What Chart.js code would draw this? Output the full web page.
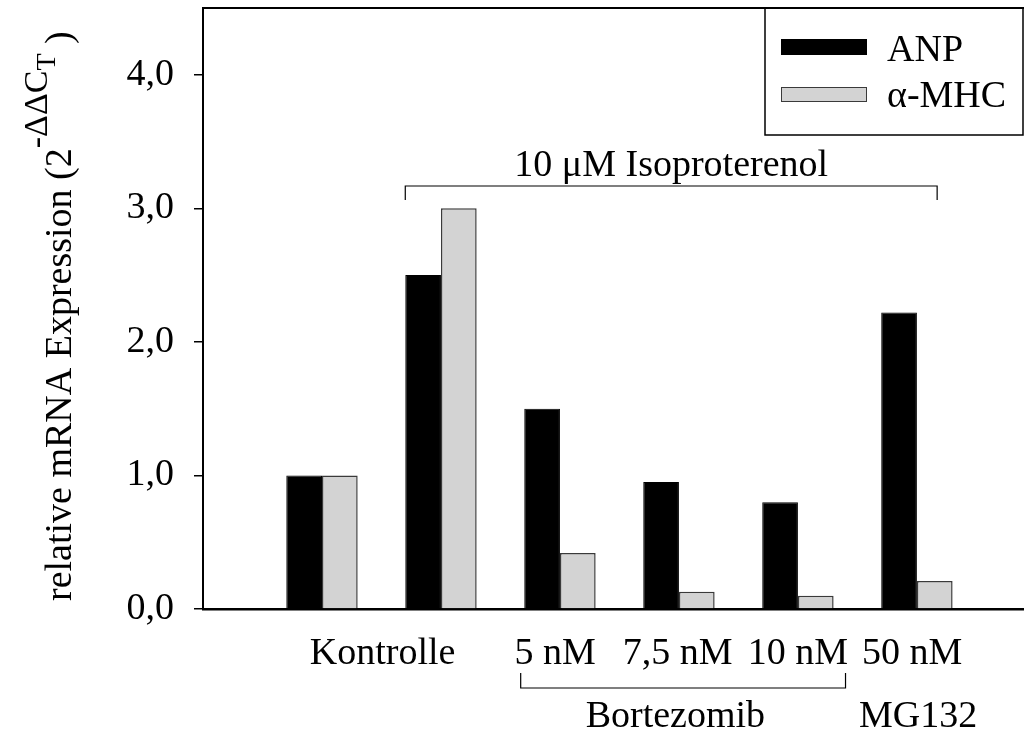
<!DOCTYPE html>
<html>
<head>
<meta charset="utf-8">
<script src="https://cdn.jsdelivr.net/npm/chart.js@4.4.1/dist/chart.umd.min.js"></script>
<style>
  html, body { margin: 0; padding: 0; background: #fff; }
</style>
</head>
<body>
<canvas id="mrnaChart" width="1024" height="731"></canvas>
<script>
// x position of each treatment group (1 = Kontrolle ... 6 = MG132)
const groups = [1, 2, 3, 4, 5, 6];
const anpValues = [1.0, 2.5, 1.5, 0.95, 0.8, 2.22];
const mhcValues = [1.0, 3.0, 0.42, 0.13, 0.10, 0.21];
const seriesNames = ["ANP", "α-MHC"];
const yTicks = [0, 1, 2, 3, 4];
const doseLabels = ["Kontrolle", "5 nM", "7,5 nM", "10 nM", "50 nM"];
const treatmentLabel = "10 μM Isoproterenol";
const inhibitorLabels = ["Bortezomib", "MG132"];

const SERIF = '"Liberation Serif", "Times New Roman", serif';
const font = px => px + "px " + SERIF;

function seg(ctx, pts){
  ctx.beginPath();
  ctx.moveTo(pts[0][0], pts[0][1]);
  for(let i = 1; i < pts.length; i++) ctx.lineTo(pts[i][0], pts[i][1]);
  ctx.stroke();
}

// frame top line, legend box, brackets, group labels and the y title
const annotations = {
  id: "annotations",
  afterDraw(chart){
    const { ctx, chartArea: a, scales: { x } } = chart;
    const px = v => x.getPixelForValue(v);
    ctx.save();
    ctx.strokeStyle = "#000";
    ctx.fillStyle = "#000";

    ctx.lineWidth = 2;
    seg(ctx, [[a.left - 1, a.top], [a.right, a.top]]);

    // legend
    const ds = chart.data.datasets;
    ctx.lineWidth = 1.5;
    seg(ctx, [[765, a.top], [765, 135], [1023, 135], [1023, a.top]]);
    const rows = [{ top: 39, h: 16, base: 61 }, { top: 87, h: 15, base: 107 }];
    ds.forEach((d, i) => {
      const r = rows[i];
      ctx.fillStyle = d.backgroundColor;
      ctx.fillRect(781, r.top, 86, r.h);
      ctx.lineWidth = 1;
      ctx.strokeStyle = d.borderColor;
      ctx.strokeRect(781.5, r.top + 0.5, 85, r.h - 1);
      ctx.fillStyle = "#000";
      ctx.font = font(38);
      ctx.textAlign = "left";
      ctx.textBaseline = "alphabetic";
      ctx.fillText(d.label, 887, r.base);
    });

    ctx.strokeStyle = "#000";
    ctx.lineWidth = 1.2;
    ctx.font = font(38);
    ctx.textAlign = "center";
    ctx.textBaseline = "alphabetic";

    // isoproterenol bracket over groups 2-6
    const isoL = px(1.7), isoR = px(6.17);
    seg(ctx, [[isoL, 200], [isoL, 186], [isoR, 186], [isoR, 200]]);
    ctx.fillText(treatmentLabel, (isoL + isoR) / 2, 176);

    // dose labels under the axis
    const doseAt = [1.51, 2.96, 3.99, 5.0, 5.96];
    doseLabels.forEach((t, i) => ctx.fillText(t, px(doseAt[i]), 664));

    // bortezomib bracket under the three doses
    const bzL = px(2.67), bzR = px(5.4);
    seg(ctx, [[bzL, 673], [bzL, 688], [bzR, 688], [bzR, 673]]);
    ctx.fillText(inhibitorLabels[0], px(3.97), 727);
    ctx.fillText(inhibitorLabels[1], px(6.01), 727);

    // y title: relative mRNA Expression (2^-ΔΔC_T )
    ctx.translate(71, 601);
    ctx.rotate(-Math.PI / 2);
    ctx.textAlign = "left";
    let cx = 0;
    const main = "relative mRNA Expression (2";
    ctx.font = font(38);
    ctx.fillText(main, cx, 0);
    cx += ctx.measureText(main).width;
    ctx.font = font(34);
    const sup = "-ΔΔC";
    ctx.fillText(sup, cx, -24);
    cx += ctx.measureText(sup).width;
    ctx.font = font(28);
    ctx.fillText("T", cx, -16);
    cx += ctx.measureText("T").width;
    ctx.font = font(38);
    ctx.fillText(" )", cx, 0);

    ctx.restore();
  }
};

const ctx = document.getElementById("mrnaChart");
new Chart(ctx, {
  type: "bar",
  data: {
    datasets: [
      {
        label: seriesNames[0],
        data: groups.map((g, i) => ({ x: g, y: anpValues[i] })),
        backgroundColor: "#000000",
        borderColor: "#000000",
        borderWidth: 1
      },
      {
        label: seriesNames[1],
        data: groups.map((g, i) => ({ x: g, y: mhcValues[i] })),
        backgroundColor: "#d3d3d3",
        borderColor: "#3a3a3a",
        borderWidth: 1.5
      }
    ]
  },
  plugins: [annotations],
  options: {
    responsive: false,
    animation: false,
    events: [],
    categoryPercentage: 0.6,
    barPercentage: 1.0,
    layout: { padding: { top: 8, right: 0, left: 0, bottom: 0 } },
    plugins: { legend: { display: false }, tooltip: { enabled: false } },
    scales: {
      x: {
        type: "linear",
        offset: false,
        min: 0,
        max: 6.9,
        afterBuildTicks: s => { s.ticks = groups.map(v => ({ value: v })); },
        afterFit: s => { s.height = 122; s.paddingLeft = 0; s.paddingRight = 0; },
        ticks: { display: false },
        grid: { display: false, offset: false },
        border: { display: true, color: "#000", width: 2.5 }
      },
      y: {
        min: 0,
        max: 4.5,
        afterBuildTicks: s => { s.ticks = yTicks.map(v => ({ value: v })); },
        afterFit: s => { s.width = 203; s.paddingTop = 0; s.paddingBottom = 0; },
        ticks: {
          padding: 20,
          color: "#000",
          font: { family: SERIF, size: 38 },
          callback: v => v.toFixed(1).replace(".", ",")
        },
        grid: {
          drawOnChartArea: false,
          drawTicks: true,
          tickLength: 9,
          color: "#000",
          lineWidth: 1.5
        },
        border: { display: true, color: "#000", width: 2 }
      }
    }
  }
});
</script>
</body>
</html>
